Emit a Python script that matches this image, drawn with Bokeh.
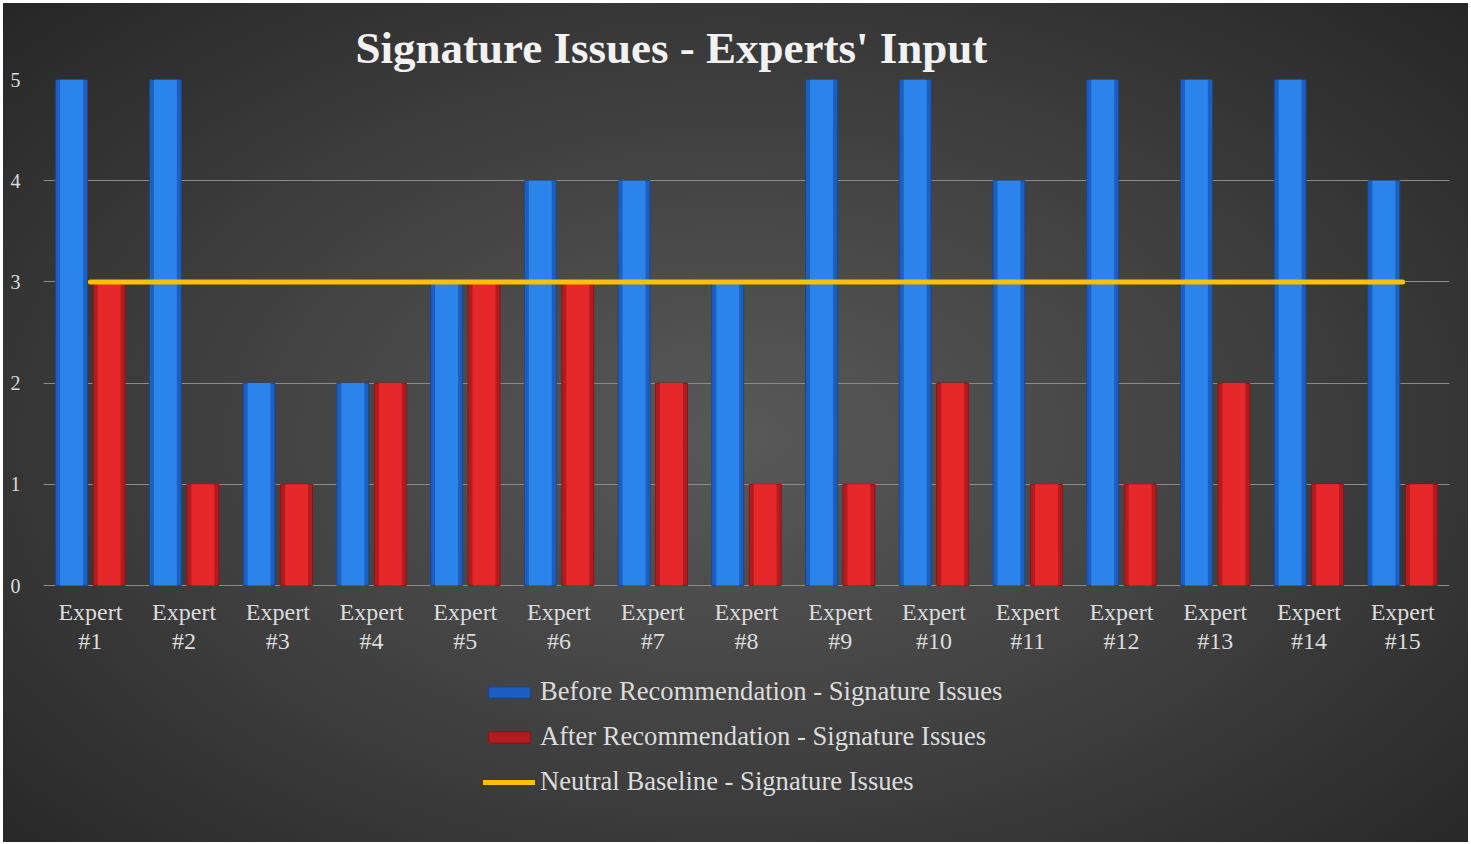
from bokeh.plotting import figure
from bokeh.models import FactorRange, Legend, LegendItem, ColumnDataSource, Range1d
from bokeh.core.properties import value
from bokeh.transform import dodge
from bokeh.embed import file_html
from bokeh.resources import INLINE

experts = [f"Expert #{i}" for i in range(1, 16)]
label_line1 = ["Expert"] * 15
label_line2 = [f"#{i}" for i in range(1, 16)]
before = [5, 5, 2, 2, 3, 4, 4, 3, 5, 5, 4, 5, 5, 5, 4]
after = [3, 1, 1, 2, 3, 3, 2, 1, 1, 2, 1, 1, 2, 1, 1]
baseline = [3] * 15
y_ticks = [0, 1, 2, 3, 4, 5]

title_text = "Signature Issues - Experts' Input"
legend_labels = [
    "Before Recommendation - Signature Issues",
    "After Recommendation - Signature Issues",
    "Neutral Baseline - Signature Issues",
]

src = ColumnDataSource(dict(x=experts, before=before, after=after, base=baseline,
                            l1=label_line1, l2=label_line2, zero=[0] * 15))

W, H = 1465, 839
top_px, plot_px, left_px, right_px = 76, 506, 40, 19
bottom_px = H - top_px - plot_px           # space under the zero line, kept inside the frame
y_low = -5 * bottom_px / plot_px

p = figure(
    x_range=FactorRange(factors=experts, range_padding=0),
    y_range=Range1d(y_low, 5),
    width=W, height=H,
    output_backend="svg", toolbar_location=None,
    min_border_left=left_px, min_border_right=right_px, min_border_top=top_px, min_border_bottom=0,
)
p.margin = (3, 0, 0, 3)
p.border_fill_alpha = 0
p.background_fill_alpha = 0
p.outline_line_color = None
p.styles = {"background": "radial-gradient(ellipse 70% 75% at 50% 52%, #595959 0%, #3e3e3e 55%, #262626 100%)"}

serif = "Liberation Serif"

# title
p.title.text = title_text
p.title.text_font = serif
p.title.text_font_style = "bold"
p.title.text_font_size = "45px"
p.title.text_color = "#f2f2f2"
p.title.align = "left"
p.title.offset = 312
p.title.standoff = 14

# grid / axes
p.xgrid.grid_line_color = None
p.ygrid.grid_line_color = "#8a8a8a"
p.ygrid.grid_line_width = 1
p.yaxis.ticker = y_ticks
p.xaxis.visible = False
ax = p.yaxis
ax.axis_line_color = None
ax.major_tick_line_color = None
ax.minor_tick_line_color = None
ax.major_label_text_font = serif
ax.major_label_text_color = "#dcdcdc"
ax.major_label_text_font_size = "20px"
ax.major_label_standoff = 17

# category labels under the bars
for col, dy in (("l1", 26), ("l2", 55)):
    p.text(x="x", y="zero", text=col, source=src, y_offset=dy,
           text_font=value(serif), text_font_size="24px", text_color="#dcdcdc",
           text_align="center", text_baseline="middle")

bw = 0.34
off = 0.2
rb = p.vbar(x=dodge("x", -off, range=p.x_range), top="before", width=bw, source=src,
            fill_color="#1c5fc0", line_color="#17488f", line_width=1)
p.vbar(x=dodge("x", -off, range=p.x_range), top="before", width=bw * 0.72, source=src,
       fill_color="#2b84ec", line_color=None)
rr = p.vbar(x=dodge("x", off, range=p.x_range), top="after", width=bw, source=src,
            fill_color="#b41b1e", line_color="#8c1416", line_width=1)
p.vbar(x=dodge("x", off, range=p.x_range), top="after", width=bw * 0.72, source=src,
       fill_color="#e6282b", line_color=None)
rl = p.line(x="x", y="base", source=src, line_color="#ffc000", line_width=5, line_cap="round")

legend = Legend(
    items=[LegendItem(label=legend_labels[0], renderers=[rb]),
           LegendItem(label=legend_labels[1], renderers=[rr]),
           LegendItem(label=legend_labels[2], renderers=[rl])],
    location=(440, 45),
    orientation="vertical",
    background_fill_alpha=0, border_line_color=None,
    label_text_font=serif, label_text_font_size="26.6px", label_text_color="#dcdcdc",
    glyph_width=52, glyph_height=14, label_standoff=5, spacing=14, label_height=30,
    padding=0, margin=0,
)
p.add_layout(legend, "center")

open("out.html", "w").write(file_html(p, INLINE))
